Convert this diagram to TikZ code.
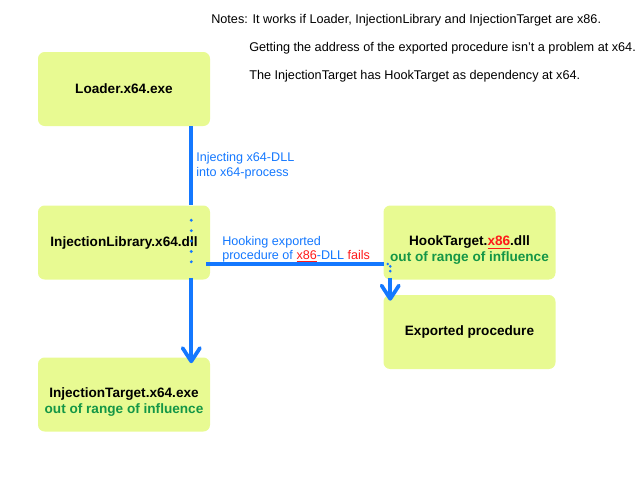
\documentclass[tikz,border=0pt]{standalone}
\usepackage{fontspec}
\setmainfont{Liberation Sans}
\usepackage{tikz}
\usetikzlibrary{arrows.meta, positioning, calc}

\definecolor{boxfill}{RGB}{232,250,146}
\definecolor{flowblue}{RGB}{20,120,255}
\definecolor{rangegreen}{RGB}{20,150,70}
\definecolor{failred}{RGB}{255,25,25}
\newcommand{\badarch}[1]{\textcolor{failred}{$\underline{\hbox{#1}}$}}

\begin{document}
\begin{tikzpicture}[
  x=0.75pt, y=-0.75pt,
  module/.style={rectangle, fill=boxfill, rounded corners=5pt, minimum width=129pt, minimum height=55.5pt, inner sep=0pt, font=\fontsize{10.2}{12}\selectfont\bfseries, align=center},
  reach/.style={font=\fontsize{10.2}{12}\selectfont\bfseries, text=rangegreen, inner sep=0pt},
  flowlbl/.style={font=\fontsize{9.45}{11.2}\selectfont, text=flowblue, align=left, inner sep=0pt},
  note/.style={font=\fontsize{9.5}{11}\selectfont, anchor=west, inner sep=0pt},
  flow/.style={draw=flowblue, line width=2.8pt},
  flowdots/.style={draw=flowblue, line width=2.4pt, line cap=round, dash pattern=on 0pt off 7.8pt},
  finedots/.style={draw=flowblue, line width=2.2pt, line cap=round, dash pattern=on 0pt off 3.6pt},
  arr/.style={flow, -{Straight Barb[length=10pt, width=13pt, round]}},
]
\useasboundingbox (0,0) rectangle (640,480);

%% Modules
\node[module] (loader) at (124,89)    {Loader.x64.exe};
\node[module] (lib)    at (124,242.5) {InjectionLibrary.x64.dll};
\node[module] (target) at (124,394.5) {InjectionTarget.x64.exe};
\node[module] (hook)   at (469.5,242.5) {HookTarget.\badarch{x86}.dll};
\node[module] (proc)   at (469.5,332)   {Exported procedure};

%% Influence remarks
\node[reach, anchor=base] (hookreach)   at ($(hook.base)+(0,16)$)   {out of range of influence};
\node[reach, anchor=base] (targetreach) at ($(target.base)+(0,16)$) {out of range of influence};

%% Notes
\node[note] (note1) at (211,20)   {Notes: It works if Loader, InjectionLibrary and InjectionTarget are x86.};
\node[note] (note2) at (249,48)   {Getting the address of the exported procedure isn't a problem at x64.};
\node[note] (note3) at (249,76.5) {The InjectionTarget has HookTarget as dependency at x64.};

%% Flow labels
\node[flowlbl, anchor=north west] (injlbl) at (196,152) {Injecting x64-DLL\\into x64-process};
\node[flowlbl, anchor=north west, font=\fontsize{9.45}{10.2}\selectfont] (hooklbl) at (222,236)
  {Hooking exported\\procedure of \badarch{x86}-DLL \textcolor{failred}{fails}};

%% Injection path
\draw[flow]     ($(loader.south east)+(-19,0)$) -- ($(lib.north east)+(-19,0)$);
\draw[flowdots] ($(lib.north east)+(-19,15)$)   -- ($(lib.south east)+(-19,-13)$);
\draw[arr]      ($(lib.south east)+(-19,-2)$)   -- ($(target.north east)+(-19,6)$);

%% Hooking path
\draw[flow]     ($(lib.east)+(-4,21.5)$)       -- ($(hook.west)+(1,21.5)$);
\draw[finedots] ($(hook.west)+(4.5,21.5)$)     -| ($(hook.south west)+(7,-5)$);
\draw[arr]      ($(hook.south west)+(7,-2)$)   -- ($(proc.north west)+(7,6)$);
\end{tikzpicture}
\end{document}
